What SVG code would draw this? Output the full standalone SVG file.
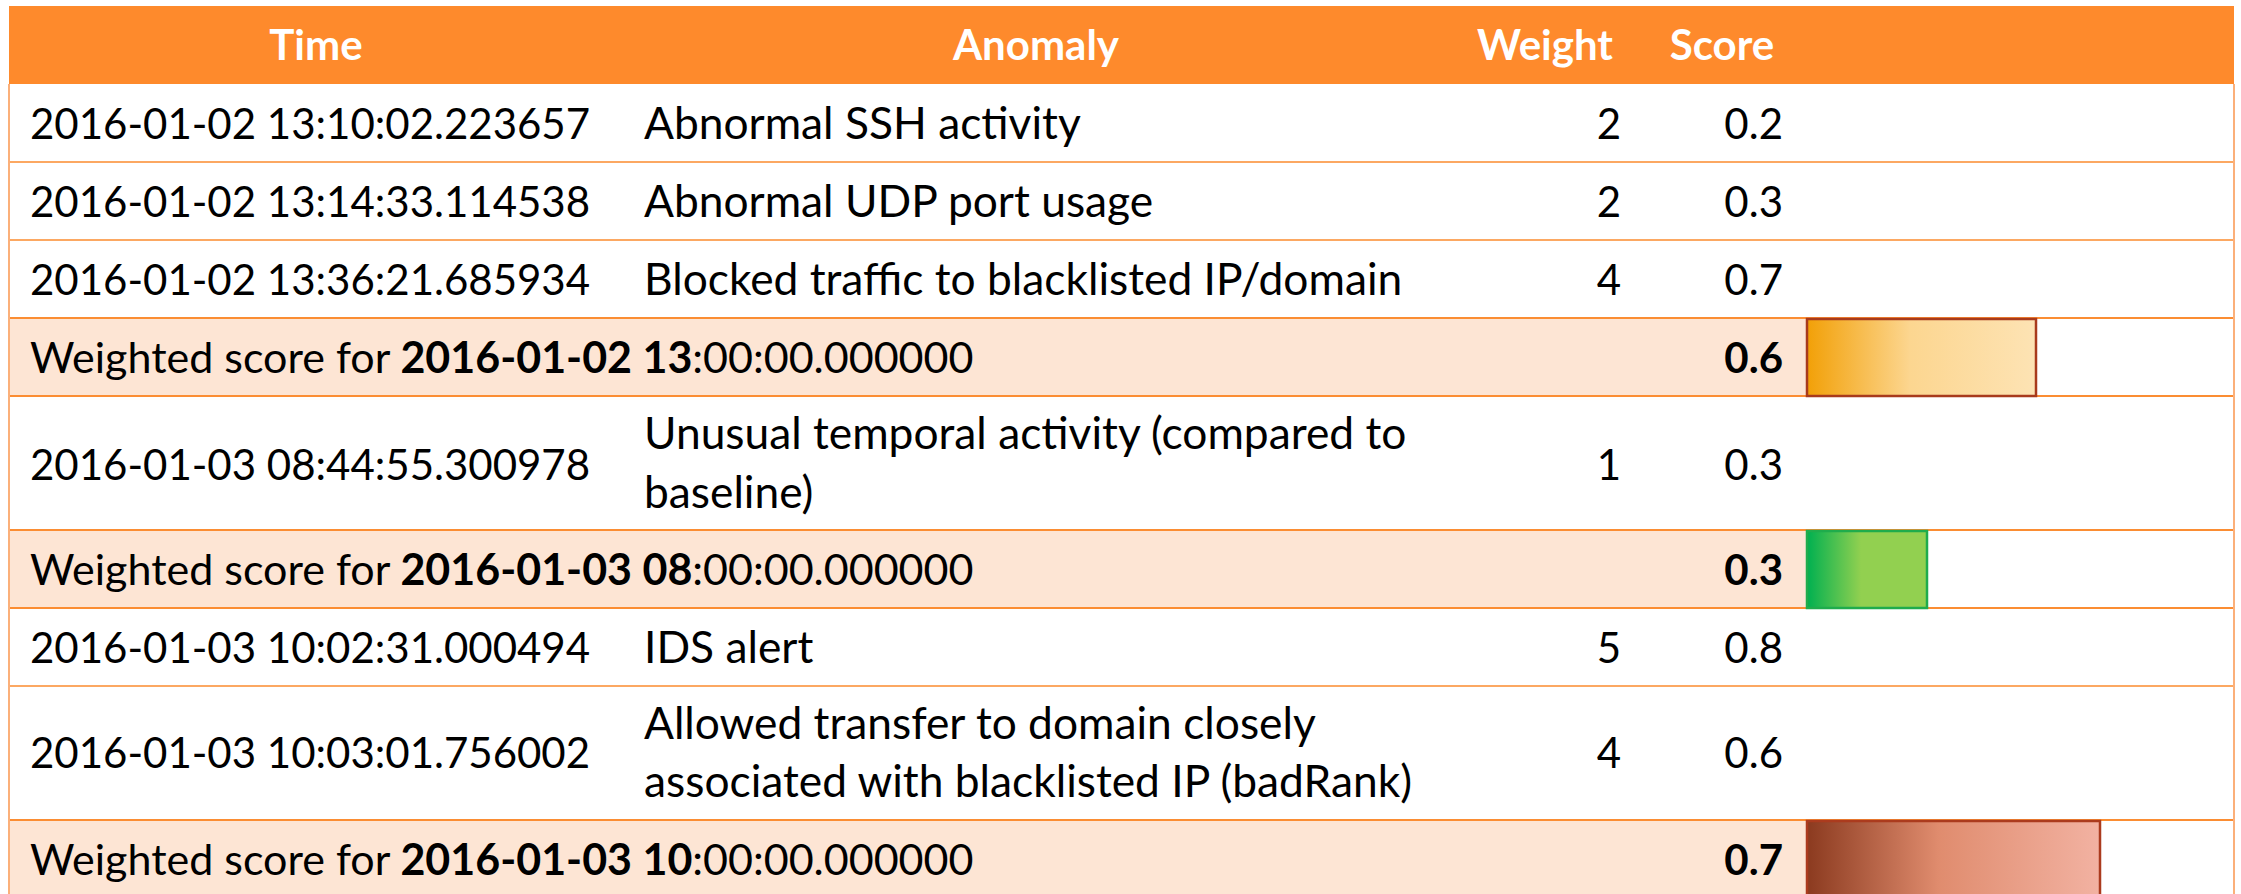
<svg xmlns="http://www.w3.org/2000/svg" width="2241" height="894" viewBox="0 0 2241 894">
  <style>
    text { font-family: Lato, "Open Sans", "Liberation Sans", sans-serif; font-size: 42px; fill: #000; }
    .hd { fill: #fff; font-weight: bold; text-anchor: middle; }
    .an { font-size: 44.3px; }
    .ws { font-size: 43px; }
    .num { text-anchor: end; }
    .b { font-weight: bold; }
    .agg { fill: #fde5d4; }
    .ln { stroke: #fca862; stroke-width: 2; }
    .lnw { stroke: #fb8d33; stroke-width: 2; }
    .edge { stroke: #fbb07a; stroke-width: 2; }
  </style>
  <defs>
    <linearGradient id="gOrange" x1="0" y1="0" x2="1" y2="0">
      <stop offset="0" stop-color="#f2a007"/>
      <stop offset="0.45" stop-color="#fcd690"/>
      <stop offset="1" stop-color="#fde3b4"/>
    </linearGradient>
    <linearGradient id="gGreen" x1="0" y1="0" x2="1" y2="0">
      <stop offset="0" stop-color="#00b050"/>
      <stop offset="0.45" stop-color="#92d050"/>
      <stop offset="1" stop-color="#92d050"/>
    </linearGradient>
    <linearGradient id="gBrown" x1="0" y1="0" x2="1" y2="0">
      <stop offset="0" stop-color="#8b3a1f"/>
      <stop offset="0.45" stop-color="#e08c6e"/>
      <stop offset="1" stop-color="#f2b2a2"/>
    </linearGradient>
  </defs>

  <rect x="0" y="0" width="2241" height="894" fill="#fff"/>

  <!-- header -->
  <g id="header">
    <rect x="9" y="6" width="2225" height="78" fill="#fe8a2c"/>
    <text class="hd" x="316" y="60">Time</text>
    <text class="hd" x="1036" y="60">Anomaly</text>
    <text class="hd" x="1545" y="60">Weight</text>
    <text class="hd" x="1722" y="60">Score</text>
  </g>

  <!-- aggregate row backgrounds -->
  <rect class="agg" x="9" y="318" width="1797" height="78"/>
  <rect class="agg" x="9" y="530" width="1797" height="78"/>
  <rect class="agg" x="9" y="820" width="1797" height="78"/>

  <!-- grid lines -->
  <g id="grid">
    <line class="ln" x1="9" y1="162" x2="2234" y2="162"/>
    <line class="ln" x1="9" y1="240" x2="2234" y2="240"/>
    <line class="lnw" x1="9" y1="318" x2="2234" y2="318"/>
    <line class="lnw" x1="9" y1="396" x2="2234" y2="396"/>
    <line class="lnw" x1="9" y1="530" x2="2234" y2="530"/>
    <line class="lnw" x1="9" y1="608" x2="2234" y2="608"/>
    <line class="ln" x1="9" y1="686" x2="2234" y2="686"/>
    <line class="lnw" x1="9" y1="820" x2="2234" y2="820"/>
    <line class="edge" x1="9" y1="84" x2="9" y2="894"/>
    <line class="edge" x1="2234" y1="84" x2="2234" y2="894"/>
  </g>

  <g id="row1">
    <text x="30" y="139">2016-01-02 13:10:02.223657</text>
    <text class="an" x="644" y="139">Abnormal SSH activity</text>
    <text class="num" x="1621" y="139">2</text>
    <text class="num" x="1783" y="139">0.2</text>
  </g>
  <g id="row2">
    <text x="30" y="217">2016-01-02 13:14:33.114538</text>
    <text class="an" x="644" y="217">Abnormal UDP port usage</text>
    <text class="num" x="1621" y="217">2</text>
    <text class="num" x="1783" y="217">0.3</text>
  </g>
  <g id="row3">
    <text x="30" y="295">2016-01-02 13:36:21.685934</text>
    <text class="an" x="644" y="295">Blocked traffic to blacklisted IP/domain</text>
    <text class="num" x="1621" y="295">4</text>
    <text class="num" x="1783" y="295">0.7</text>
  </g>
  <g id="agg1">
    <text class="ws" x="30" y="373">Weighted score for <tspan class="b">2016-01-02 13</tspan>:00:00.000000</text>
    <text class="num b" x="1783" y="373">0.6</text>
    <rect x="1807" y="319" width="229" height="77" fill="url(#gOrange)" stroke="#a83a1c" stroke-width="2.5"/>
  </g>
  <g id="row5">
    <text x="30" y="480">2016-01-03 08:44:55.300978</text>
    <text class="an" x="644" y="449">Unusual temporal activity (compared to</text>
    <text class="an" x="644" y="508">baseline)</text>
    <text class="num" x="1621" y="480">1</text>
    <text class="num" x="1783" y="480">0.3</text>
  </g>
  <g id="agg2">
    <text class="ws" x="30" y="585">Weighted score for <tspan class="b">2016-01-03 08</tspan>:00:00.000000</text>
    <text class="num b" x="1783" y="585">0.3</text>
    <rect x="1807" y="531" width="120" height="77" fill="url(#gGreen)" stroke="#1fac4c" stroke-width="2.5"/>
  </g>
  <g id="row7">
    <text x="30" y="663">2016-01-03 10:02:31.000494</text>
    <text class="an" x="644" y="663">IDS alert</text>
    <text class="num" x="1621" y="663">5</text>
    <text class="num" x="1783" y="663">0.8</text>
  </g>
  <g id="row8">
    <text x="30" y="768">2016-01-03 10:03:01.756002</text>
    <text class="an" x="644" y="739">Allowed transfer to domain closely</text>
    <text class="an" x="644" y="797">associated with blacklisted IP (badRank)</text>
    <text class="num" x="1621" y="768">4</text>
    <text class="num" x="1783" y="768">0.6</text>
  </g>
  <g id="agg3">
    <text class="ws" x="30" y="875">Weighted score for <tspan class="b">2016-01-03 10</tspan>:00:00.000000</text>
    <text class="num b" x="1783" y="875">0.7</text>
    <rect x="1807" y="821" width="293" height="80" fill="url(#gBrown)" stroke="#ab3b1e" stroke-width="2.5"/>
  </g>
</svg>
